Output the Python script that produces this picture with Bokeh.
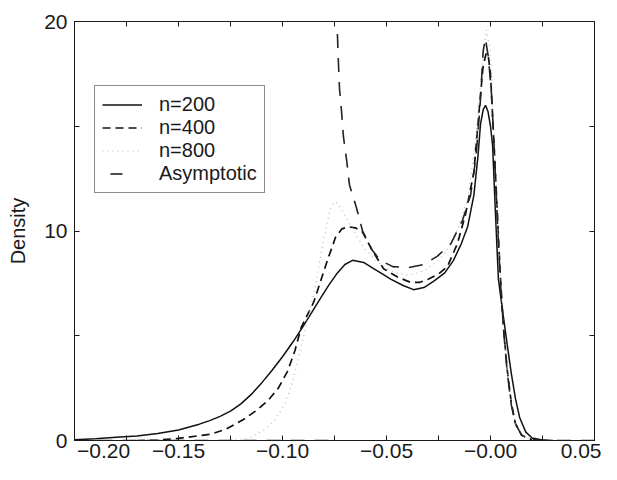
from bokeh.plotting import figure
from bokeh.models import LinearAxis, FixedTicker, Legend, LegendItem, Range1d
from bokeh.embed import file_html
from bokeh.resources import INLINE

nan = float("nan")

# ---- data ----
N200_X = [-0.20, -0.19, -0.18, -0.17, -0.16, -0.15, -0.14, -0.135, -0.13, -0.125,
          -0.12, -0.115, -0.11, -0.105, -0.10, -0.095, -0.0904, -0.086, -0.0817, -0.0775,
          -0.0736, -0.0700, -0.0663, -0.0610, -0.0562, -0.052, -0.048, -0.042, -0.037, -0.032,
          -0.0274, -0.0220, -0.0178, -0.014, -0.011, -0.008, -0.0060, -0.0048, -0.0035, -0.0024,
          -0.0012, 0.0, 0.001, 0.0024, 0.0038, 0.0058, 0.008, 0.010, 0.012, 0.014,
          0.017, 0.020, 0.025, 0.03]
N200_Y = [0.03, 0.08, 0.15, 0.22, 0.33, 0.5, 0.78, 0.95, 1.15, 1.4,
          1.75, 2.2, 2.75, 3.35, 4.0, 4.7, 5.4, 6.1, 6.8, 7.45,
          8.0, 8.4, 8.6, 8.5, 8.2, 7.95, 7.7, 7.4, 7.2, 7.3,
          7.6, 8.0, 8.6, 9.4, 10.2, 11.7, 13.6, 15.1, 15.8, 16.0,
          15.7, 15.0, 14.1, 10.8, 7.7, 6.2, 4.6, 3.2, 2.0, 1.1,
          0.4, 0.12, 0.02, 0.0]

N400_X = [-0.17, -0.16, -0.15, -0.1346, -0.127, -0.1188, -0.113, -0.107, -0.102, -0.0976,
          -0.094, -0.091, -0.085, -0.0784, -0.0745, -0.0715, -0.0683, -0.065, -0.0615, -0.057,
          -0.0514, -0.0447, -0.0385, -0.034, -0.030, -0.0250, -0.0207, -0.0159, -0.012, -0.008,
          -0.005, -0.0035, -0.002, -0.001, 0.0, 0.0015, 0.003, 0.0045, 0.006, 0.008,
          0.010, 0.012, 0.015, 0.02]
N400_Y = [0.0, 0.02, 0.1, 0.3, 0.55, 1.0, 1.4, 1.9, 2.5, 3.3,
          4.3, 5.4, 6.6, 8.6, 9.7, 10.1, 10.2, 10.15, 9.95, 9.1,
          8.2, 7.8, 7.55, 7.55, 7.7, 7.95, 8.3, 9.4, 10.8, 12.8,
          16.3, 17.9, 18.5, 18.3, 17.5, 14.5, 11.5, 8.3, 5.7, 3.4,
          1.8, 0.8, 0.25, 0.03]

N800_X = [-0.125, -0.115, -0.109, -0.1035, -0.0985, -0.0947, -0.090, -0.0845, -0.0808, -0.077,
          -0.0745, -0.072, -0.068, -0.064, -0.06, -0.055, -0.05, -0.045, -0.04, -0.035,
          -0.03, -0.025, -0.02, -0.015, -0.011, -0.007, -0.004, -0.002, 0.0, 0.0015,
          0.003, 0.0045, 0.006, 0.008, 0.010, 0.012, 0.015, 0.02]
N800_Y = [0.0, 0.15, 0.5, 1.0, 1.8, 2.95, 4.9, 7.2, 9.3, 11.1,
          11.4, 11.1, 10.4, 9.7, 9.1, 8.6, 8.2, 8.0, 7.9, 8.0,
          8.2, 8.6, 9.2, 10.3, 11.5, 14.5, 18.0, 19.6, 18.6, 15.0,
          11.8, 8.5, 5.8, 3.4, 1.8, 0.8, 0.25, 0.03]

ASYM_X = [-0.20, -0.078, nan,
          -0.0736, -0.0731, -0.0726, -0.0716, -0.0707, -0.0692, -0.0678, -0.0644, -0.0615, -0.057,
          -0.053, -0.047, -0.0394, -0.0322, -0.0255, -0.019, -0.0135, -0.0096, -0.007, -0.005,
          -0.0035, -0.0025, -0.001, 0.0005, 0.002, 0.0035, 0.005, 0.0065, 0.008, 0.010,
          0.012, 0.015, 0.02, 0.03, 0.05]
ASYM_Y = [0.0, 0.0, nan,
          19.4, 18.0, 16.8, 15.7, 14.5, 13.4, 12.2, 11.1, 10.0, 9.1,
          8.6, 8.3, 8.25, 8.4, 8.8, 9.4, 10.5, 11.7, 13.5, 16.0,
          18.6, 19.2, 18.3, 16.5, 13.5, 10.0, 7.2, 5.0, 3.3, 1.7,
          0.8, 0.25, 0.03, 0.0, 0.0]

SERIES_LABELS = ["n=200", "n=400", "n=800", "Asymptotic"]

X_MAJOR = [-0.20, -0.15, -0.10, -0.05, 0.0, 0.05]
X_MINOR = [-0.175, -0.125, -0.075, -0.025, 0.025]
X_TICK_LABELS = ["\u00a0" * 10 + "\u22120.20", "\u22120.15", "\u22120.10", "\u22120.05", "\u22120.00", "0.05"]
Y_MAJOR = [0, 10, 20]
Y_MINOR = [5, 15]
Y_TICK_LABELS = ["0", "10", "20"]

FONT = "Liberation Sans"
INK = "#1a1a1a"

p = figure(width=601, height=464, output_backend="svg", toolbar_location=None,
           x_range=Range1d(-0.20, 0.05), y_range=Range1d(0, 20),
           min_border_left=74, min_border_right=7, min_border_top=21, min_border_bottom=0,
           background_fill_color="white", border_fill_color="white")
p.xgrid.visible = False
p.ygrid.visible = False
p.outline_line_color = INK
p.outline_line_width = 1

def style_axis(ax, major, minor, labels, show_labels):
    ax.ticker = FixedTicker(ticks=major, minor_ticks=minor)
    ax.major_tick_in = 5
    ax.major_tick_out = 0
    ax.minor_tick_in = 5
    ax.minor_tick_out = 0
    ax.axis_line_color = INK
    ax.major_tick_line_color = INK
    ax.minor_tick_line_color = INK
    ax.major_label_text_font = FONT
    if show_labels:
        ax.major_label_overrides = {t: l for t, l in zip(major, labels)}
        ax.major_label_text_font_size = "21px"
        ax.major_label_text_color = INK
    else:
        ax.major_label_text_font_size = "1px"
        ax.major_label_text_color = None
        ax.major_label_standoff = 0

xb = p.xaxis[0]
style_axis(xb, X_MAJOR, X_MINOR, X_TICK_LABELS, True)
xb.major_label_standoff = -2
yl = p.yaxis[0]
style_axis(yl, Y_MAJOR, Y_MINOR, Y_TICK_LABELS, True)
yl.major_label_standoff = 7
yl.axis_label = "Density"
yl.axis_label_text_font = FONT
yl.axis_label_text_font_size = "20px"
yl.axis_label_text_font_style = "normal"
yl.axis_label_text_color = INK
yl.axis_label_standoff = 12

xt = LinearAxis()
style_axis(xt, X_MAJOR, X_MINOR, X_TICK_LABELS, False)
p.add_layout(xt, "above")
yr = LinearAxis()
style_axis(yr, Y_MAJOR, Y_MINOR, Y_TICK_LABELS, False)
p.add_layout(yr, "right")

r200 = p.line(N200_X, N200_Y, line_color="#111111", line_width=1.5)
r400 = p.line(N400_X, N400_Y, line_color="#111111", line_width=1.7, line_dash="8 5")
r800 = p.line(N800_X, N800_Y, line_color="#b8b8b8", line_width=1.2, line_dash="1 4")
rasy = p.line(ASYM_X, ASYM_Y, line_color="#222222", line_width=1.6, line_dash="14 10")
# legend-only twin of the asymptotic curve (hidden in the plot) for a single-dash key
rasy_leg = p.line(ASYM_X, ASYM_Y, line_color="#222222", line_width=1.6, line_dash="12 40",
                  line_dash_offset=44, visible=False)

legend = Legend(items=[LegendItem(label=SERIES_LABELS[0], renderers=[r200]),
                       LegendItem(label=SERIES_LABELS[1], renderers=[r400]),
                       LegendItem(label=SERIES_LABELS[2], renderers=[r800]),
                       LegendItem(label=SERIES_LABELS[3], renderers=[rasy_leg])],
                location=(20, 247), orientation="vertical",
                border_line_color=INK, border_line_width=1, background_fill_color="white",
                background_fill_alpha=1.0, label_text_font=FONT, label_text_font_size="20px",
                label_text_color=INK, glyph_width=40, glyph_height=21, label_height=21,
                label_standoff=17, spacing=0, padding=7, margin=0,
                inactive_fill_alpha=0.0)
p.add_layout(legend, "center")

open("out.html", "w").write(file_html(p, INLINE))
